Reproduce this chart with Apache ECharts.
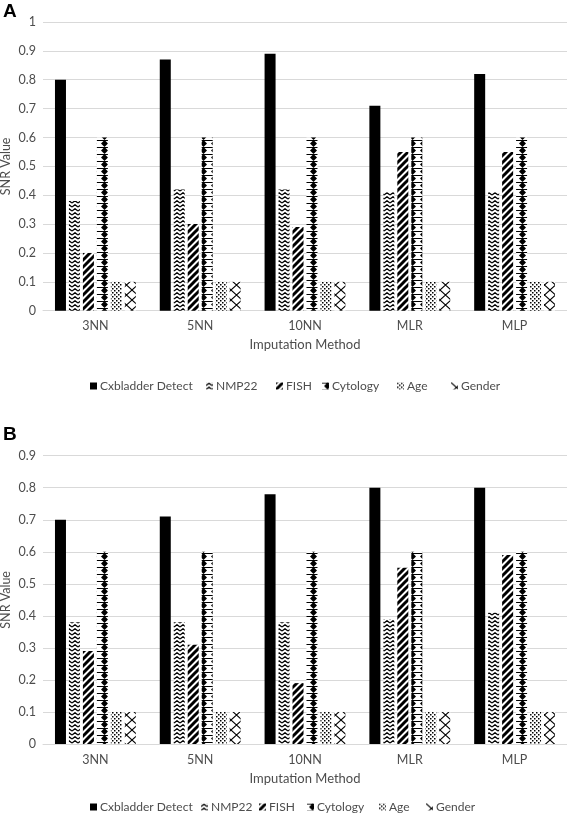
<!DOCTYPE html>
<html>
<head>
<meta charset="utf-8">
<script src="https://cdn.jsdelivr.net/npm/echarts@6/dist/echarts.min.js"></script>
<style>
html,body{margin:0;padding:0;background:#fff;}
#chart{width:567px;height:815px;}
</style>
</head>
<body>
<div id="chart"></div>
<script>
// ---- data ----
const categories = ['3NN', '5NN', '10NN', 'MLR', 'MLP'];
const seriesNames = ['Cxbladder Detect', 'NMP22', 'FISH', 'Cytology', 'Age', 'Gender'];

// Panel A
const aCxbladder = [0.80, 0.87, 0.89, 0.71, 0.82];
const aNMP22     = [0.38, 0.42, 0.42, 0.41, 0.41];
const aFISH      = [0.20, 0.30, 0.29, 0.55, 0.55];
const aCytology  = [0.60, 0.60, 0.60, 0.60, 0.60];
const aAge       = [0.10, 0.10, 0.10, 0.10, 0.10];
const aGender    = [0.10, 0.10, 0.10, 0.10, 0.10];

// Panel B
const bCxbladder = [0.70, 0.71, 0.78, 0.80, 0.80];
const bNMP22     = [0.38, 0.38, 0.38, 0.39, 0.41];
const bFISH      = [0.29, 0.31, 0.19, 0.55, 0.59];
const bCytology  = [0.60, 0.60, 0.60, 0.60, 0.60];
const bAge       = [0.10, 0.10, 0.10, 0.10, 0.10];
const bGender    = [0.10, 0.10, 0.10, 0.10, 0.10];

const aTicks = ['0','0.1','0.2','0.3','0.4','0.5','0.6','0.7','0.8','0.9','1'];
const bTicks = ['0','0.1','0.2','0.3','0.4','0.5','0.6','0.7','0.8','0.9'];

// ---- patterns ----
function makePattern(w, h, draw) {
  const c = document.createElement('canvas');
  c.width = w; c.height = h;
  const ctx = c.getContext('2d');
  ctx.fillStyle = '#fff'; ctx.fillRect(0, 0, w, h);
  ctx.fillStyle = '#000'; ctx.strokeStyle = '#000';
  draw(ctx, w, h);
  return { image: c, repeat: 'repeat' };
}
const patSolid = '#000';
const patZigzag = makePattern(6, 4, (ctx) => {
  ctx.lineWidth = 1.4;
  ctx.beginPath(); ctx.moveTo(0, 3); ctx.lineTo(3, 0.8); ctx.lineTo(6, 3); ctx.stroke();
});
const patStripe = makePattern(7, 7, (ctx) => {
  ctx.lineWidth = 3;
  ctx.beginPath();
  ctx.moveTo(-1, 8); ctx.lineTo(8, -1);
  ctx.moveTo(-4, 4); ctx.lineTo(4, -4);
  ctx.moveTo(3, 11); ctx.lineTo(11, 3);
  ctx.stroke();
});
const patDiamond = makePattern(11, 7, (ctx) => {
  ctx.beginPath();
  ctx.moveTo(5.5, 0); ctx.lineTo(9, 3.5); ctx.lineTo(5.5, 7); ctx.lineTo(2, 3.5); ctx.closePath();
  ctx.fill();
  ctx.fillRect(0, 0, 11, 1);
});
const patDots = makePattern(4, 4, (ctx) => {
  ctx.fillRect(0, 0, 1.5, 1.5);
  ctx.fillRect(2, 2, 1.5, 1.5);
});
const patCross = makePattern(11, 10, (ctx) => {
  ctx.lineWidth = 1.1;
  ctx.beginPath();
  ctx.moveTo(0, 0); ctx.lineTo(11, 10);
  ctx.moveTo(11, 0); ctx.lineTo(0, 10);
  ctx.stroke();
});
const patterns = [patSolid, patZigzag, patStripe, patDiamond, patDots, patCross];

const FONT = 'Lato';
const GREY = '#4d4d4d';
const GRIDC = '#d9d9d9';

const aData = [aCxbladder, aNMP22, aFISH, aCytology, aAge, aGender];
const bData = [bCxbladder, bNMP22, bFISH, bCytology, bAge, bGender];

function makeSeries(dataSets, idx) {
  return dataSets.map((d, i) => ({
    name: seriesNames[i],
    type: 'bar',
    xAxisIndex: idx,
    yAxisIndex: idx,
    data: d,
    barWidth: 11,
    barGap: '27%',
    itemStyle: { color: patterns[i] },
    emphasis: { disabled: true }
  }));
}

function makeX(idx) {
  return {
    type: 'category', gridIndex: idx, data: categories,
    axisLine: { lineStyle: { color: GRIDC, width: 1 } },
    axisTick: { show: false },
    axisLabel: { color: GREY, fontFamily: FONT, fontSize: 12.5, margin: 9 },
    name: 'Imputation Method', nameLocation: 'middle', nameGap: 28, nameMoveOverlap: false,
    nameTextStyle: { color: GREY, fontFamily: FONT, fontSize: 13 }
  };
}
function makeY(idx, ticks) {
  return {
    type: 'value', gridIndex: idx, min: 0, max: Number(ticks[ticks.length - 1]), interval: 0.1,
    axisLine: { show: false }, axisTick: { show: false },
    splitLine: { lineStyle: { color: GRIDC, width: 1 } },
    axisLabel: { color: GREY, fontFamily: FONT, fontSize: 12.5, margin: 7,
      formatter: (v) => ticks[Math.round(v * 10)] },
    name: 'SNR Value', nameLocation: 'middle', nameGap: 31, nameMoveOverlap: false,
    nameTextStyle: { color: GREY, fontFamily: FONT, fontSize: 12.5 }
  };
}

const aLegendLeft = [90, 206, 276, 322, 397, 451];
const bLegendLeft = [90, 201, 259, 307, 379, 426];
function makeLegends(lefts, top) {
  return seriesNames.map((n, i) => ({
    data: [n], left: lefts[i], top: top, icon: 'rect',
    itemWidth: 7, itemHeight: 7, itemGap: 0, padding: 0,
    selectedMode: false,
    textStyle: { color: GREY, fontFamily: FONT, fontSize: 12, padding: [0, 0, 0, -2] }
  }));
}

const chart = echarts.init(document.getElementById('chart'), null, { renderer: 'canvas' });
chart.setOption({
  animation: false,
  backgroundColor: '#fff',
  title: [
    { text: 'A', left: 3, top: 2, padding: 0, textStyle: { fontFamily: 'Liberation Sans', fontWeight: 'bold', fontSize: 19, color: '#000' } },
    { text: 'B', left: 3, top: 425, padding: 0, textStyle: { fontFamily: 'Liberation Sans', fontWeight: 'bold', fontSize: 19, color: '#000' } }
  ],
  grid: [
    { left: 43, top: 22, width: 524, height: 288.7, containLabel: false, outerBoundsMode: 'none' },
    { left: 43, top: 455.7, width: 524, height: 288.3, containLabel: false, outerBoundsMode: 'none' }
  ],
  xAxis: [makeX(0), makeX(1)],
  yAxis: [makeY(0, aTicks), makeY(1, bTicks)],
  legend: makeLegends(aLegendLeft, 380).concat(makeLegends(bLegendLeft, 801)),
  series: makeSeries(aData, 0).concat(makeSeries(bData, 1))
});
</script>
</body>
</html>
